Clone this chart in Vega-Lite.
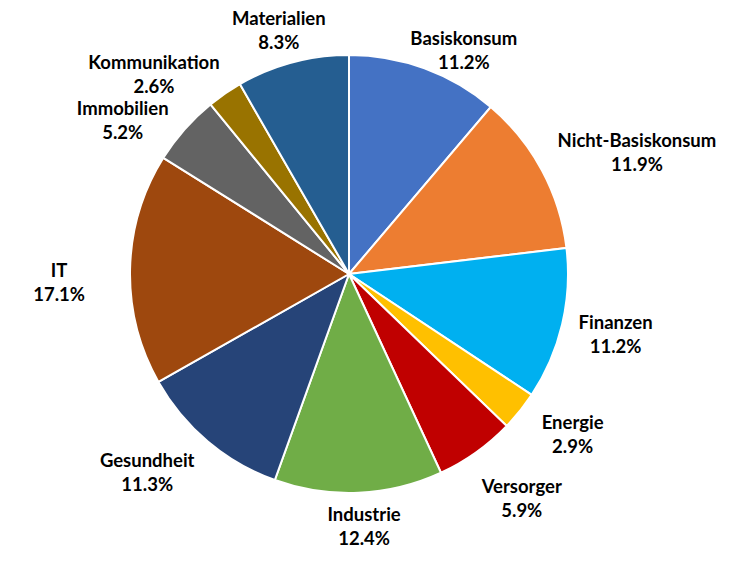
{
  "$schema": "https://vega.github.io/schema/vega-lite/v6.json",
  "width": 698,
  "height": 548,
  "padding": {"left": 0, "top": 0, "right": 34, "bottom": 16},
  "autosize": {"type": "none"},
  "background": "white",
  "config": {"view": {"stroke": null}},
  "data": {
    "values": [
      {"i": 1, "sector": "Basiskonsum", "share": 0.112},
      {"i": 2, "sector": "Nicht-Basiskonsum", "share": 0.119},
      {"i": 3, "sector": "Finanzen", "share": 0.112},
      {"i": 4, "sector": "Energie", "share": 0.029},
      {"i": 5, "sector": "Versorger", "share": 0.059},
      {"i": 6, "sector": "Industrie", "share": 0.124},
      {"i": 7, "sector": "Gesundheit", "share": 0.113},
      {"i": 8, "sector": "IT", "share": 0.171},
      {"i": 9, "sector": "Immobilien", "share": 0.052},
      {"i": 10, "sector": "Kommunikation", "share": 0.026},
      {"i": 11, "sector": "Materialien", "share": 0.083}
    ]
  },
  "encoding": {
    "theta": {"field": "share", "type": "quantitative", "stack": true},
    "order": {"field": "i", "type": "quantitative"},
    "color": {
      "field": "sector",
      "type": "nominal",
      "legend": null,
      "scale": {
        "domain": ["Basiskonsum", "Nicht-Basiskonsum", "Finanzen", "Energie", "Versorger", "Industrie", "Gesundheit", "IT", "Immobilien", "Kommunikation", "Materialien"],
        "range": ["#4472C4", "#ED7D31", "#00B0F0", "#FFC000", "#C00000", "#70AD47", "#264478", "#9E480E", "#636363", "#997300", "#255E91"]
      }
    }
  },
  "layer": [
    {
      "mark": {"type": "arc", "outerRadius": 219, "stroke": "white", "strokeWidth": 2}
    },
    {
      "mark": {
        "type": "text", "font": "Lato", "fontWeight": "bold", "fontSize": 18.5, "color": "black",
        "radius": {"expr": "{'Basiskonsum': 249, 'Nicht-Basiskonsum': 311, 'Finanzen': 274, 'Energie': 275, 'Versorger': 284, 'Industrie': 253, 'Gesundheit': 282, 'IT': 290, 'Immobilien': 271, 'Kommunikation': 275, 'Materialien': 253}[datum.sector]"},
        "dx": {"expr": "{'Basiskonsum': 29, 'Nicht-Basiskonsum': 14, 'Energie': 9, 'Versorger': 8, 'Industrie': 4, 'Gesundheit': -20, 'Immobilien': -23, 'Kommunikation': -39, 'Materialien': -5}[datum.sector] || 0"},
        "dy": {"expr": "-12 + ({'Basiskonsum': 11, 'Nicht-Basiskonsum': 26, 'Finanzen': -2, 'Energie': -11, 'Versorger': -6, 'Gesundheit': -17, 'IT': 15, 'Immobilien': 26, 'Kommunikation': 27, 'Materialien': 1}[datum.sector] || 0)"}
      },
      "encoding": {"text": {"field": "sector"}, "color": {"value": "black"}}
    },
    {
      "mark": {
        "type": "text", "font": "Lato", "fontWeight": "bold", "fontSize": 18.5, "color": "black",
        "radius": {"expr": "{'Basiskonsum': 249, 'Nicht-Basiskonsum': 311, 'Finanzen': 274, 'Energie': 275, 'Versorger': 284, 'Industrie': 253, 'Gesundheit': 282, 'IT': 290, 'Immobilien': 271, 'Kommunikation': 275, 'Materialien': 253}[datum.sector]"},
        "dx": {"expr": "{'Basiskonsum': 29, 'Nicht-Basiskonsum': 14, 'Energie': 9, 'Versorger': 8, 'Industrie': 4, 'Gesundheit': -20, 'Immobilien': -23, 'Kommunikation': -39, 'Materialien': -5}[datum.sector] || 0"},
        "dy": {"expr": "12 + ({'Basiskonsum': 11, 'Nicht-Basiskonsum': 26, 'Finanzen': -2, 'Energie': -11, 'Versorger': -6, 'Gesundheit': -17, 'IT': 15, 'Immobilien': 26, 'Kommunikation': 27, 'Materialien': 1}[datum.sector] || 0)"}
      },
      "encoding": {"text": {"field": "share", "type": "quantitative", "format": ".1%"}, "color": {"value": "black"}}
    }
  ]
}
